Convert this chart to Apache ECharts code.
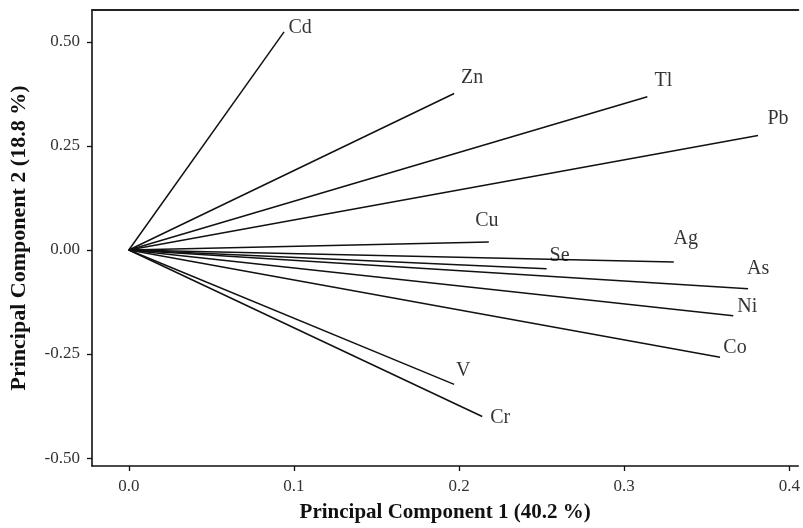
<!DOCTYPE html>
<html>
<head>
<meta charset="utf-8">
<script src="https://cdn.jsdelivr.net/npm/echarts@6/dist/echarts.min.js"></script>
<style>
  html, body { margin: 0; padding: 0; background: #fff; }
  #chart { width: 803px; height: 528px; }
</style>
</head>
<body>
<div id="chart"></div>
<script>
// loadings (PC1, PC2)
var elements = ['Cd', 'Zn', 'Tl', 'Pb', 'Cu', 'Ag', 'Se', 'As', 'Ni', 'Co', 'V', 'Cr'];
var pc1 = [0.094, 0.197, 0.314, 0.381, 0.218, 0.330, 0.253, 0.375, 0.366, 0.358, 0.197, 0.214];
var pc2 = [0.524, 0.376, 0.368, 0.275, 0.019, -0.029, -0.045, -0.093, -0.158, -0.258, -0.323, -0.400];
var xTicks = [0, 0.1, 0.2, 0.3, 0.4];
var yTicks = [-0.5, -0.25, 0, 0.25, 0.5];

// where each name sits relative to its arrow tip (px)
var labelOffset = {
  Cd: [16, -4], Zn: [18, -16], Tl: [16, -16], Pb: [20, -17],
  Cu: [-2, -21], Ag: [12, -23], Se: [13, -13], As: [10, -20],
  Ni: [14, -9], Co: [15, -10], V: [9, -14], Cr: [18, 1]
};

var serif = '"Liberation Serif", "DejaVu Serif", serif';

var series = [];
elements.forEach(function (el, i) {
  series.push({
    type: 'line',
    name: el,
    data: [[0, 0], [pc1[i], pc2[i]]],
    showSymbol: false,
    symbol: 'none',
    silent: true,
    lineStyle: { color: '#111', width: 1.5 },
    z: 2
  });
});

series.push({
  type: 'scatter',
  symbolSize: 0,
  silent: true,
  data: elements.map(function (el, i) {
    return {
      value: [pc1[i], pc2[i]],
      label: { offset: labelOffset[el] }
    };
  }),
  label: {
    show: true,
    position: 'inside',
    formatter: function (p) { return elements[p.dataIndex]; },
    fontFamily: serif,
    fontSize: 20,
    color: '#000',
    textBorderWidth: 0
  },
  z: 3
});

var chart = echarts.init(document.getElementById('chart'), null, { renderer: 'canvas' });
chart.setOption({
  backgroundColor: '#fff',
  animation: false,
  grid: { left: 92, right: 0, top: 10, bottom: 60 },
  xAxis: [{
    type: 'value',
    min: -0.0223,
    max: 0.4054,
    name: 'Principal Component 1 (40.2 %)',
    nameLocation: 'middle',
    nameGap: 36,
    nameTextStyle: { fontFamily: serif, fontSize: 21, fontWeight: 'bold', color: '#111' },
    axisLine: { onZero: false, lineStyle: { color: '#111', width: 1.6 } },
    axisTick: { show: true, length: 5, customValues: xTicks, lineStyle: { color: '#111', width: 1.3 } },
    axisLabel: {
      customValues: xTicks,
      margin: 12,
      fontFamily: serif, fontSize: 17, color: '#333',
      formatter: function (v) { return v.toFixed(1); }
    },
    splitLine: { show: false }
  }, {
    type: 'value',
    position: 'top',
    min: -0.0223,
    max: 0.4054,
    axisLine: { show: true, onZero: false, lineStyle: { color: '#222', width: 2 } },
    axisTick: { show: false },
    axisLabel: { show: false },
    splitLine: { show: false }
  }],
  yAxis: {
    type: 'value',
    min: -0.519,
    max: 0.5765,
    name: 'Principal Component 2 (18.8 %)',
    nameLocation: 'middle',
    nameGap: 62,
    nameTextStyle: { fontFamily: serif, fontSize: 22, fontWeight: 'bold', color: '#111' },
    axisLine: { show: true, onZero: false, lineStyle: { color: '#111', width: 1.6 } },
    axisTick: { show: true, length: 5, customValues: yTicks, lineStyle: { color: '#111', width: 1.3 } },
    axisLabel: {
      customValues: yTicks,
      margin: 12,
      fontFamily: serif, fontSize: 17, color: '#333',
      formatter: function (v) { return v.toFixed(2); }
    },
    splitLine: { show: false }
  },
  series: series
});
</script>
</body>
</html>
